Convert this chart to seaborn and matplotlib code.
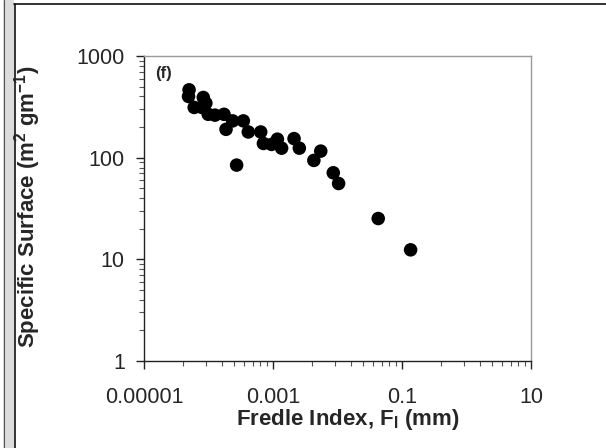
import matplotlib
matplotlib.use("Agg")
import matplotlib.pyplot as plt
from matplotlib.patches import Rectangle
from matplotlib.lines import Line2D
from matplotlib.ticker import FixedLocator, NullFormatter
import numpy as np
import pandas as pd
import seaborn as sns

# Fredle index (mm) and specific surface (m2/g)
fredle_index = [5.0e-5, 4.9e-5, 6.0e-5, 8.3e-5, 9.1e-5, 7.9e-5, 9.9e-5, 1.26e-4,
                1.74e-4, 1.87e-4, 2.37e-4, 3.47e-4, 4.14e-4, 6.45e-4, 7.1e-4,
                9.5e-4, 1.17e-3, 1.36e-3, 2.73e-4, 2.12e-3, 2.56e-3, 5.5e-3,
                4.3e-3, 8.6e-3, 1.04e-2, 0.0428, 0.136]
specific_surface = [465, 400, 312, 391, 344, 312, 267, 262,
                    267, 190, 230, 230, 179, 179, 138,
                    135, 152, 124, 84.5, 154, 124, 116,
                    94, 71, 55.7, 25.2, 12.4]

x_ticks = [1e-5, 1e-3, 1e-1, 10]
x_tick_labels = ["0.00001", "0.001", "0.1", "10"]
y_ticks = [1, 10, 100, 1000]
y_tick_labels = ["1", "10", "100", "1000"]

df = pd.DataFrame({"fi": fredle_index, "ss": specific_surface})

sns.set_style("white")
plt.rcParams["font.family"] = ["Liberation Sans", "DejaVu Sans"]

fig = plt.figure(figsize=(6.06, 4.48), dpi=100)
ax = fig.add_axes([144 / 606, 1 - 361 / 448, 387 / 606, 305 / 448])

sns.scatterplot(data=df, x="fi", y="ss", ax=ax, color="black", s=95,
                edgecolor="none", linewidth=0, legend=False)

ax.set_xscale("log")
ax.set_yscale("log")
ax.set_xlim(1e-5, 10)
ax.set_ylim(1, 1000)

ax.set_xticks(x_ticks)
ax.set_xticklabels(x_tick_labels)
ax.set_yticks(y_ticks)
ax.set_yticklabels(y_tick_labels)

# excel style minor ticks, base 100 on x
x_minor = [m * k * k for m in [1e-5, 1e-3, 1e-1] for k in range(2, 10)]
y_minor = [m * k for m in [1, 10, 100] for k in range(2, 10)]
ax.xaxis.set_minor_locator(FixedLocator(x_minor))
ax.yaxis.set_minor_locator(FixedLocator(y_minor))
ax.xaxis.set_minor_formatter(NullFormatter())
ax.yaxis.set_minor_formatter(NullFormatter())

ax.tick_params(which="major", direction="out", length=5.8, width=1,
               color="#222222", labelsize=15.5, left=True, bottom=True)
ax.tick_params(which="minor", direction="out", length=3.6, width=0.8,
               color="#555555", left=True, bottom=True)
ax.tick_params(axis="x", which="major", pad=13)
ax.tick_params(axis="y", which="major", pad=8)

for side in ["left", "bottom"]:
    ax.spines[side].set_color("#222222")
    ax.spines[side].set_linewidth(1.0)
for side in ["top", "right"]:
    ax.spines[side].set_color("#999999")
    ax.spines[side].set_linewidth(1.0)

ax.set_xlabel("Fredle Index, F$_\\mathregular{I}$ (mm)", fontsize=16,
              fontweight="bold")
ax.set_ylabel("Specific Surface (m$^\\mathregular{2}$ gm$^\\mathregular{-1}$)",
              fontsize=16, fontweight="bold")
ax.xaxis.set_label_coords(0.527, -0.15)
ax.yaxis.set_label_coords(-0.262, 0.505)

ax.text(0.03, 0.944, "(f)", transform=ax.transAxes, fontsize=12,
        fontweight="bold", ha="left", va="center")

# outer frame like the original sheet
fig.add_artist(Rectangle((3 / 606, 0), 11 / 606, 1, transform=fig.transFigure,
                         facecolor="#dcdcdc", edgecolor="none", zorder=-2))
fig.add_artist(Line2D([3.5 / 606, 3.5 / 606], [0, 1], transform=fig.transFigure,
                      color="#555555", linewidth=0.8, zorder=-1))
fig.add_artist(Line2D([14.5 / 606, 14.5 / 606], [0, 1 - 4 / 448],
                      transform=fig.transFigure, color="#111111", linewidth=1.2,
                      zorder=-1))
fig.add_artist(Line2D([14 / 606, 1], [1 - 4 / 448, 1 - 4 / 448],
                      transform=fig.transFigure, color="#111111", linewidth=1.2,
                      zorder=-1))

fig.savefig("out.png", dpi=100)
